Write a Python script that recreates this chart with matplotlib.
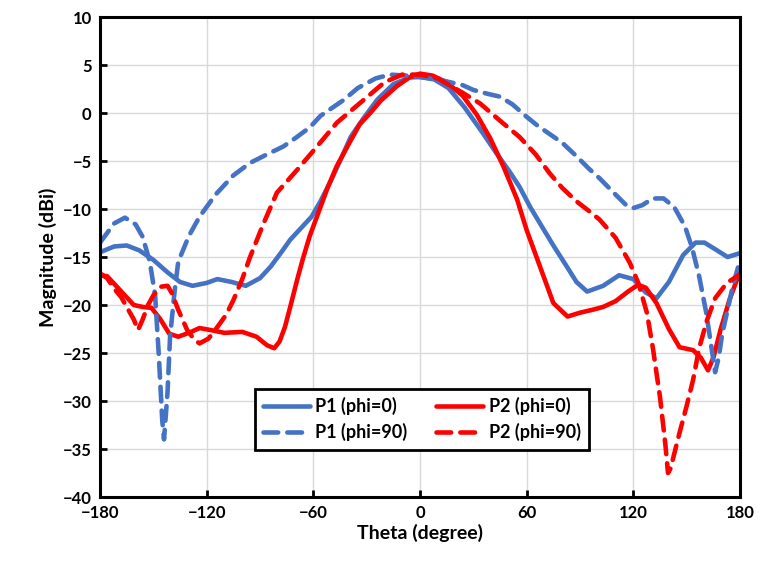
import numpy as np
import matplotlib
matplotlib.use("Agg")
import matplotlib.pyplot as plt

plt.rcParams['font.family'] = ['Lato', 'DejaVu Sans']
plt.rcParams['font.weight'] = 'bold'

# P1 (phi=0)
p1_0_theta = [-180, -172, -165, -158, -150, -142, -135, -128, -120, -114, -106, -98, -90, -84, -78, -73, -67,
              -61, -56, -50, -45, -39, -32, -24, -15, -6, 0, 8, 16, 25, 35, 43, 50, 56, 62, 67.5, 75, 82.6,
              88, 94, 103, 112, 120, 127, 133, 140, 148, 155, 160, 167, 173, 180]
p1_0_mag = [-14.5, -13.9, -13.8, -14.3, -15.3, -16.6, -17.6, -18.0, -17.7, -17.3, -17.6, -18.0, -17.2, -16.0,
            -14.5, -13.2, -12.0, -10.8, -9.2, -7.0, -5.0, -2.5, -0.6, 1.4, 3.0, 3.7, 3.75, 3.5, 2.6, 0.6,
            -2.0, -4.2, -6.0, -7.7, -9.8, -11.5, -13.8, -16.0, -17.6, -18.6, -18.0, -16.9, -17.3, -18.7,
            -19.3, -17.6, -14.8, -13.5, -13.5, -14.3, -15.0, -14.6]

# P1 (phi=90)
p1_90_theta = [-180, -172, -166, -160, -156, -152, -149, -147, -145, -144, -142, -140.6, -138, -136, -130,
               -124, -115, -105, -95.6, -86, -77, -70, -62, -56, -43, -35, -25, -17, -8, 0, 10, 24, 30, 38,
               45, 52, 60, 66, 73, 80, 88, 95, 101, 110, 116, 120, 125, 131, 137, 143, 149, 153, 157, 161,
               164, 166, 168, 170, 173, 176, 179, 180]
p1_90_mag = [-13.5, -11.5, -10.9, -11.6, -12.9, -15.5, -19.0, -25.0, -32.0, -34.0, -29.0, -23.3, -18.5,
             -15.5, -12.8, -10.8, -8.5, -6.5, -5.2, -4.3, -3.5, -2.6, -1.5, -0.3, 1.35, 2.6, 3.6, 4.0, 3.9,
             3.75, 3.5, 2.9, 2.4, 2.0, 1.7, 0.9, -0.4, -1.3, -2.2, -3.1, -4.5, -5.8, -6.8, -8.5, -9.6, -9.9,
             -9.6, -8.9, -8.9, -9.8, -11.8, -14.0, -17.0, -20.8, -24.5, -27.0, -25.5, -23.0, -20.5, -18.0,
             -16.0, -15.3]

# P2 (phi=0)
p2_0_theta = [-180, -176, -172, -167, -161, -156, -151, -146, -141, -136, -130, -124, -118, -110, -100,
              -92, -86, -82, -79, -76, -73, -69, -65.6, -62, -58, -52, -47, -40, -34, -28, -22, -13, -6,
              0, 7, 15, 24, 32, 39.4, 47, 54.6, 60, 67.5, 75, 83, 90, 97, 103, 110, 117, 122.6, 127, 133,
              140, 146, 153.6, 158, 162, 165, 169, 174, 179, 180]
p2_0_mag = [-16.9, -17.0, -17.8, -18.8, -20.0, -20.2, -20.3, -21.5, -23.0, -23.3, -22.9, -22.4, -22.6,
            -22.9, -22.8, -23.3, -24.2, -24.5, -23.8, -22.3, -20.2, -17.3, -15.0, -12.8, -10.8, -7.8, -5.6,
            -3.2, -1.2, 0.0, 1.3, 2.8, 3.7, 4.1, 3.9, 3.2, 1.8, -0.2, -2.6, -5.6, -9.0, -12.2, -16.0,
            -19.8, -21.2, -20.8, -20.5, -20.2, -19.6, -18.6, -17.9, -18.2, -19.8, -22.5, -24.4, -24.7,
            -25.5, -26.8, -25.5, -22.6, -19.5, -17.0, -16.8]

# P2 (phi=90)
p2_90_theta = [-180, -176, -172, -168, -165, -161, -158.6, -156, -153, -150, -146, -142, -139.5, -136,
               -131, -127, -124, -119, -114, -109, -105, -100, -95.6, -88, -80.5, -69, -58, -46.7, -34,
               -20, -10, 0, 10, 24, 33.75, 45, 56, 65, 73, 80, 88, 95, 101, 110, 118, 123, 127.6, 131,
               135, 138, 139.5, 141, 143, 146, 150, 153.6, 157, 161.4, 166, 172.6, 180]
p2_90_mag = [-16.7, -17.2, -18.3, -19.2, -20.2, -21.5, -22.6, -21.5, -20.0, -19.0, -18.1, -18.0, -18.8,
             -20.5, -22.6, -23.6, -24.0, -23.5, -22.3, -21.0, -19.5, -17.3, -15.0, -11.5, -8.3, -5.9,
             -3.5, -1.0, 1.0, 3.2, 4.0, 4.0, 3.6, 2.1, 1.0, -0.8, -2.5, -4.3, -6.3, -7.8, -9.2, -10.2,
             -11.1, -13.0, -15.6, -17.8, -20.8, -24.5, -29.6, -34.5, -37.5, -37.0, -35.5, -33.3, -30.5,
             -27.8, -24.5, -21.6, -19.3, -17.7, -16.8]

blue = '#4472C4'
red = '#FF0000'

fig = plt.figure(figsize=(7.6, 5.63), dpi=100)
ax = fig.add_axes([0.1316, 0.1172, 0.8421, 0.8526])

dash = (0, (3.2, 2.0))
l1, = ax.plot(p1_0_theta, p1_0_mag, color=blue, lw=3.3, label='P1 (phi=0)', solid_capstyle='round')
l2, = ax.plot(p2_0_theta, p2_0_mag, color=red, lw=3.3, label='P2 (phi=0)', solid_capstyle='round')
l3, = ax.plot(p1_90_theta, p1_90_mag, color=blue, lw=3.3, ls=dash, label='P1 (phi=90)', dash_capstyle='round')
l4, = ax.plot(p2_90_theta, p2_90_mag, color=red, lw=3.3, ls=dash, label='P2 (phi=90)', dash_capstyle='round')

ax.set_xlim(-180, 180)
ax.set_ylim(-40, 10)
ax.set_xticks(np.arange(-180, 181, 60))
ax.set_yticks(np.arange(-40, 11, 5))
ax.grid(True, color='#d9d9d9', lw=1)
ax.set_axisbelow(True)
for s in ax.spines.values():
    s.set_linewidth(2.2)
    s.set_color('black')
ax.tick_params(direction='in', length=5, width=2, labelsize=12, pad=6)
for lab in ax.get_xticklabels() + ax.get_yticklabels():
    lab.set_fontweight('bold')

ax.set_xlabel('Theta (degree)', fontsize=14, fontweight='bold', labelpad=2)
ax.set_ylabel('Magnitude (dBi)', fontsize=14, fontweight='bold', labelpad=4)

# matplotlib fills legend columns first, so order handles for row-wise layout
leg = ax.legend([l1, l3, l2, l4], [l1.get_label(), l3.get_label(), l2.get_label(), l4.get_label()],
                ncol=2, loc='lower center', bbox_to_anchor=(0.503, 0.08), fontsize=13,
                frameon=True, fancybox=False, edgecolor='black', framealpha=1,
                handlelength=2.6, columnspacing=1.6, handletextpad=0.3, borderpad=0.45,
                labelspacing=0.45)
leg.get_frame().set_linewidth(2)

fig.savefig('out.png', dpi=100)
